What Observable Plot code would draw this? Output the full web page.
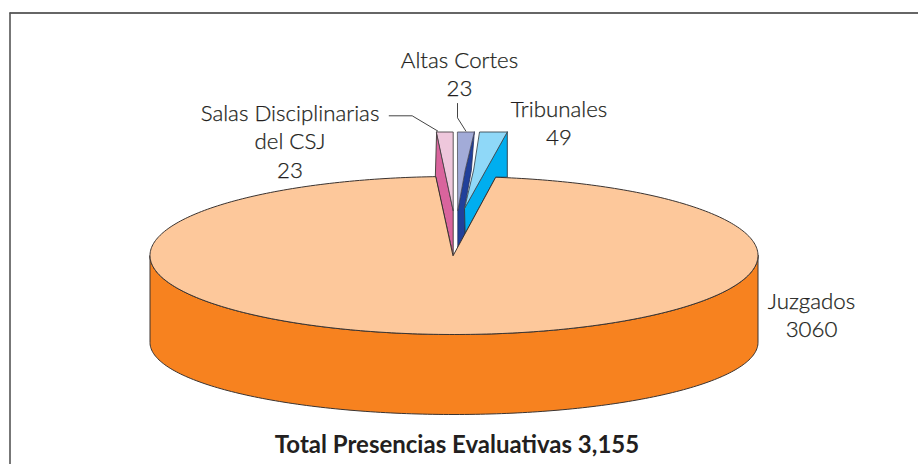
<!DOCTYPE html>
<html>
<head>
<meta charset="utf-8">
<script src="https://cdn.jsdelivr.net/npm/d3@7"></script>
<script src="https://cdn.jsdelivr.net/npm/@observablehq/plot@0.6"></script>
<style>html,body{margin:0;padding:0;background:#fff}svg{display:block}</style>
</head>
<body>
<div id="chart"></div>
<script>
// Data
const categories = ["Salas Disciplinarias\ndel CSJ", "Altas Cortes", "Tribunales", "Juzgados"];
const values = [23, 23, 49, 3060];
const chartTitle = "Total Presencias Evaluativas 3,155";

// Layout of the pseudo-3D pie
const W = 918, H = 464;
const cx = 453.5, cy = 255, rx = 304, ry = 79;
const apexX = 452.7;
const baseDrop = 87, baseRy = 72;
const wedgeTop = 131.5, wedgeInner = 210, wedgeMid = 170;
const notchStartDeg = -3.5, notchStretch = 1.05;
const wedgeWidth = v => 2.02 * Math.pow(v, 0.67);
const gap1 = 4.6, gap2 = 5.6;

const total = d3.sum(values);
const others = total - values[3];
const notchEndDeg = notchStartDeg + others / total * 360 * notchStretch;
const rad = d => d * Math.PI / 180;
const topPt = d => [cx + rx * Math.sin(rad(d)), cy - ry * Math.cos(rad(d))];
const basePt = d => [cx + rx * Math.sin(rad(d)), cy + baseDrop - baseRy * Math.cos(rad(d))];

// Juzgados top face and rim, from its share of the pie
const arcAngles = d3.range(notchEndDeg, notchStartDeg + 360, 1).concat(notchStartDeg + 360);
const topFace = [[apexX, cy], ...arcAngles.map(topPt)];
const rimAngles = d3.range(90, 270.5, 1);
const rimFace = [...rimAngles.map(topPt), ...rimAngles.slice().reverse().map(basePt)];

const nL = topPt(notchStartDeg), nR = topPt(notchEndDeg);
const s0 = apexX - wedgeWidth(values[0]), s1 = apexX;
const a0 = s1 + gap1, a1 = a0 + wedgeWidth(values[1]);
const t0 = a1 + gap2, t1 = t0 + wedgeWidth(values[2]);
const corner = [a0 + 6.7, wedgeInner - 2];     // inner corner shared by navy and blue
const nearNotch = (cy - 233) / (cy - nR[1]);   // where the notch edge meets the navy face
const nn = [apexX + (nR[0] - apexX) * nearNotch, 233];
const navyFoot = [a0, 246.5];
const periMid = [a0 + 7.3, wedgeMid];
const navyMid = [a1 - 3, wedgeMid];
const skyMid = [t0 - 6.4, wedgeMid];

const polys = [
  // rim
  {pts: rimFace, fill: "#f7821f", stroke: "#3a3330", w: 1},
  // Salas
  {pts: [[s0, wedgeTop], [s1, wedgeInner], [s1, cy], nL], fill: "#d9649d", stroke: "#3a3330", w: 0.9},
  {pts: [[s0, wedgeTop], [s1, wedgeTop], [s1, wedgeInner]], fill: "#eec7dc", stroke: "#4a4448", w: 0.9},
  // Altas
  {pts: [[a1, wedgeTop], periMid, [a0, wedgeInner], navyFoot, nn, corner, navyMid], fill: "#21409a", stroke: "#23305e", w: 0.8},
  {pts: [[a0, wedgeTop], [a1, wedgeTop], periMid, [a0, wedgeInner]], fill: "#a2abd8", stroke: "#4a4a58", w: 0.8},
  // Tribunales
  {pts: [[t1, wedgeTop], [t1, nR[1]], nR, nn, corner], fill: "#00aeef", stroke: "#2a3a44", w: 0.9},
  {pts: [[t0, wedgeTop], [t1, wedgeTop], corner, skyMid], fill: "#8fd8f8", stroke: "#3a4a54", w: 0.9},
  // Juzgados top
  {pts: topFace, fill: "#fdc89b", stroke: "#3a3330", w: 1}
];

// Leader lines and label anchors
const leaders = [
  [[388.7, 115.3], [411.7, 115.3], [s0 + 1, wedgeTop - 1]],
  [[457, 103], [457, 117.3], [a0 + 8, wedgeTop - 1]]
];
const labels = [
  {t: categories[0] + "\n" + values[0], x: 289.5, y: 112},
  {t: categories[1] + "\n" + values[1], x: 459, y: 59},
  {t: categories[2] + "\n" + values[2], x: 558.5, y: 108},
  {t: categories[3] + "\n" + values[3], x: 811, y: 300}
];

const ink = "#231f20";
const chart = Plot.plot({
  width: W, height: H, margin: 0,
  style: {background: "#fff", fontFamily: "Lato, sans-serif"},
  x: {domain: [0, W], range: [0, W], axis: null},
  y: {domain: [0, H], range: [0, H], axis: null},
  marks: [
    Plot.ruleY([12.5], {x1: 9.5, x2: W, stroke: "#333", strokeWidth: 1.6}),
    Plot.ruleX([9.5], {y1: 12.5, y2: H, stroke: "#555", strokeWidth: 1.6}),
    ...polys.map(p => Plot.line(p.pts, {
      x: d => d[0], y: d => d[1], fill: p.fill, stroke: p.stroke,
      strokeWidth: p.w, curve: "linear-closed"
    })),
    ...leaders.map(l => Plot.line(l, {x: d => d[0], y: d => d[1], stroke: "#444", strokeWidth: 1})),
    Plot.text(labels, {
      x: "x", y: "y", text: "t", fontSize: 22.3, fontWeight: 300, lineHeight: 1.28, fill: ink,
      stroke: ink, strokeWidth: 0.25,
      textAnchor: "middle", lineAnchor: "top", dy: -12
    }),
    Plot.text([chartTitle], {
      x: () => 456.5, y: () => 452, text: d => d, fontSize: 24, fontWeight: 700, fill: ink,
      textAnchor: "middle", lineAnchor: "bottom", dy: 0
    })
  ]
});
document.getElementById("chart").append(chart);
</script>
</body>
</html>
